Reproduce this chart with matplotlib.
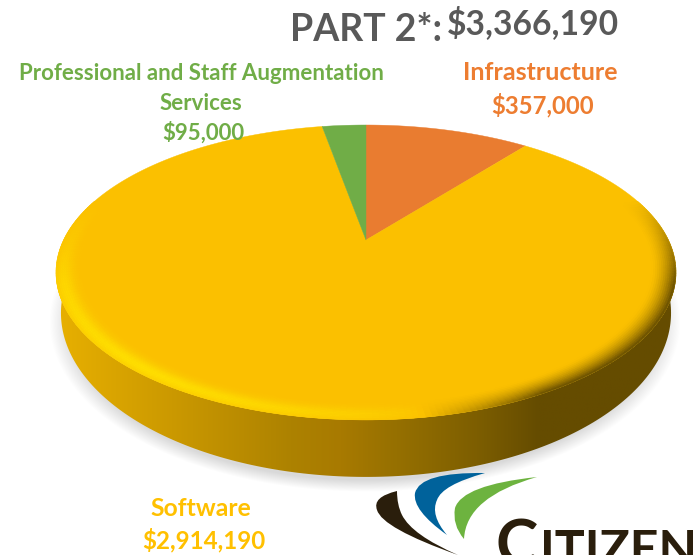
import numpy as np
import matplotlib
matplotlib.use('Agg')
import matplotlib.pyplot as plt
from matplotlib.collections import PolyCollection
from matplotlib.colors import LinearSegmentedColormap, to_rgb
from matplotlib.patches import PathPatch, Polygon
from matplotlib.path import Path

# slices run clockwise from 12 o'clock
names = ['Infrastructure', 'Software', 'Professional and Staff Augmentation\nServices']
amounts = [357000, 2914190, 95000]
amount_labels = ['$357,000', '$2,914,190', '$95,000']
slice_colors = ['#E97C30', '#FBC000', '#70AD47']
title_left = 'PART 2*:'
title_right = '$3,366,190'

W, H = 697, 555
APEX_X, APEX_Y = 366, 240
A, B, P = 302.4, 140.3, 0.22


def project(u, v):
    # unit circle -> tilted disc seen in perspective, pixels
    w = 1 + P * v
    return APEX_X + A * u / w, APEX_Y - B * v / w


def lower_edge(u, v):
    x, y = project(u, v)
    return APEX_X + (x - APEX_X) * 0.984, APEX_Y + (y - APEX_Y) * 1.112 + 36.9


def mix(c1, c2, t):
    return np.array(c1) * (1 - t) + np.array(c2) * t


fig = plt.figure(figsize=(W / 100, H / 100), dpi=100)
ax = fig.add_axes([0, 0, 1, 1])

# soft shadow under the disc
xx, yy = np.meshgrid(np.arange(W) + 0.5, np.arange(H) + 0.5)
d = np.sqrt(((xx - 365) / 316) ** 2 + ((yy - 322) / 170) ** 2)
shadow = np.zeros((H, W, 4))
shadow[..., 3] = 0.15 * np.clip((1 - d) / 0.07, 0, 1)
ax.imshow(shadow, extent=(0, W, H, 0), aspect='auto', zorder=1)

# side wall, horizontal gradient clipped to the wall outline
t = np.linspace(np.pi, 2 * np.pi, 200)
top_x, top_y = project(np.cos(t), np.sin(t))
low_x, low_y = lower_edge(np.cos(t), np.sin(t))
wall = Polygon(np.r_[np.c_[top_x, top_y], np.c_[low_x, low_y][::-1]], closed=True,
               transform=ax.transData, fc='none', ec='none')
ax.add_patch(wall)
stops = [(0.0, '#E8B000'), (0.22, '#C69500'), (0.38, '#AD8200'), (0.46, '#A87A00'),
         (0.55, '#967000'), (0.68, '#7D5E00'), (0.78, '#654C00'), (1.0, '#654C00')]
side_cmap = LinearSegmentedColormap.from_list('side', stops)
grad = ax.imshow(np.linspace(0, 1, 256)[None, :], cmap=side_cmap, extent=(55, 676, 490, 270),
                 aspect='auto', zorder=2)
grad.set_clip_path(wall)

# top face
fractions = np.array(amounts) / sum(amounts)
edges = np.r_[0, np.cumsum(fractions)] * 2 * np.pi
for i in range(len(amounts)):
    a = np.linspace(edges[i], edges[i + 1], 200)
    x, y = project(np.sin(a), np.cos(a))
    pts = np.r_[[[APEX_X, APEX_Y]], np.c_[x, y]]
    ax.add_patch(Polygon(pts, closed=True, fc=slice_colors[i], ec=slice_colors[i], lw=0.3, zorder=3))

# bevel round the front of the top face
base = to_rgb('#FBC000')
bright = to_rgb('#FFE000')
dark = to_rgb('#654C00')
quads, quad_colors = [], []
theta = np.linspace(0, 2 * np.pi, 361)
radii = np.linspace(0.925, 1.0, 13)
for j in range(len(theta) - 1):
    th0, th1 = theta[j], theta[j + 1]
    um, vm = np.cos((th0 + th1) / 2), np.sin((th0 + th1) / 2)
    fade = np.clip((0.3 - vm) / 0.6, 0, 1)
    if fade <= 0.01:
        continue
    light = 0.15 - um
    for k in range(len(radii) - 1):
        r0, r1 = radii[k], radii[k + 1]
        pos = (k + 0.5) / (len(radii) - 1)
        if light > 0:
            # strongest along the front edge, milder towards the far left
            strength = min(1, light ** 0.5 * 1.1) * (0.55 + 0.45 * min(1, -vm * 1.2 if vm < 0 else 0))
            profile = np.exp(-((pos - 0.7) / 0.4) ** 2)
            col = mix(base, bright, strength * profile * fade)
        else:
            col = mix(base, dark, min(1, -light * 3) * pos ** 1.6 * fade)
        px0, py0 = project(r0 * np.cos(th0), r0 * np.sin(th0))
        px1, py1 = project(r1 * np.cos(th0), r1 * np.sin(th0))
        px2, py2 = project(r1 * np.cos(th1), r1 * np.sin(th1))
        px3, py3 = project(r0 * np.cos(th1), r0 * np.sin(th1))
        quads.append([(px0, py0), (px1, py1), (px2, py2), (px3, py3)])
        quad_colors.append(col)
ax.add_collection(PolyCollection(quads, facecolors=quad_colors, edgecolors=quad_colors,
                                 linewidths=0.4, zorder=4))

# logo swooshes
M, C3 = Path.MOVETO, Path.CURVE3
swooshes = [
    ('#00629B', [(485, 473), (420, 472), (415, 493), (412, 510), (447, 535), (430, 515), (437, 500), (442, 485), (485, 473)]),
    ('#6DB33F', [(537, 477), (462, 485), (455, 508), (452, 525), (464, 539), (466, 497), (537, 477)]),
    ('#2A1E0C', [(397, 491), (372, 497), (377, 510), (382, 528), (458, 555), (412, 535), (402, 515), (397, 505), (397, 491)]),
]
for col, pts in swooshes:
    codes = [M] + [C3] * (len(pts) - 1)
    ax.add_patch(PathPatch(Path(pts, codes), fc=col, ec='none', zorder=5))

font = 'Lato'
ax.text(366, 30, title_left, ha='center', va='center', fontsize=27, fontweight='bold',
        color='#595959', family=font, zorder=6)
ax.text(533, 23, title_right, ha='center', va='center', fontsize=24.2, fontweight='bold',
        color='#595959', family=font, zorder=6)

ax.text(201, 74, names[2].split('\n')[0], ha='center', va='center', fontsize=16, fontweight='bold',
        color='#70AD47', family=font, zorder=6)
ax.text(201, 104, names[2].split('\n')[1], ha='center', va='center', fontsize=16, fontweight='bold',
        color='#70AD47', family=font, zorder=6)
ax.text(203, 133, amount_labels[2], ha='center', va='center', fontsize=16, fontweight='bold',
        color='#70AD47', family=font, zorder=6)

ax.text(540, 72, names[0], ha='center', va='center', fontsize=18, fontweight='bold',
        color='#ED7D31', family=font, zorder=6)
ax.text(543, 105, amount_labels[0], ha='center', va='center', fontsize=17.2, fontweight='bold',
        color='#ED7D31', family=font, zorder=6)

ax.text(201, 508, names[1], ha='center', va='center', fontsize=17.8, fontweight='bold',
        color='#FFC000', family=font, zorder=6)
ax.text(204, 540, amount_labels[1], ha='center', va='center', fontsize=17.4, fontweight='bold',
        color='#FFC000', family=font, zorder=6)

ax.text(495, 566, 'C', ha='left', va='baseline', fontsize=46, color='#2A1E0C', family=font,
        fontweight='bold', zorder=6)
ax.text(540, 566, 'ITIZEN', ha='left', va='baseline', fontsize=36, color='#2A1E0C', family=font,
        fontweight='bold', zorder=6)

ax.set_xlim(0, W)
ax.set_ylim(H, 0)
ax.axis('off')
fig.savefig('out.png', dpi=100)
